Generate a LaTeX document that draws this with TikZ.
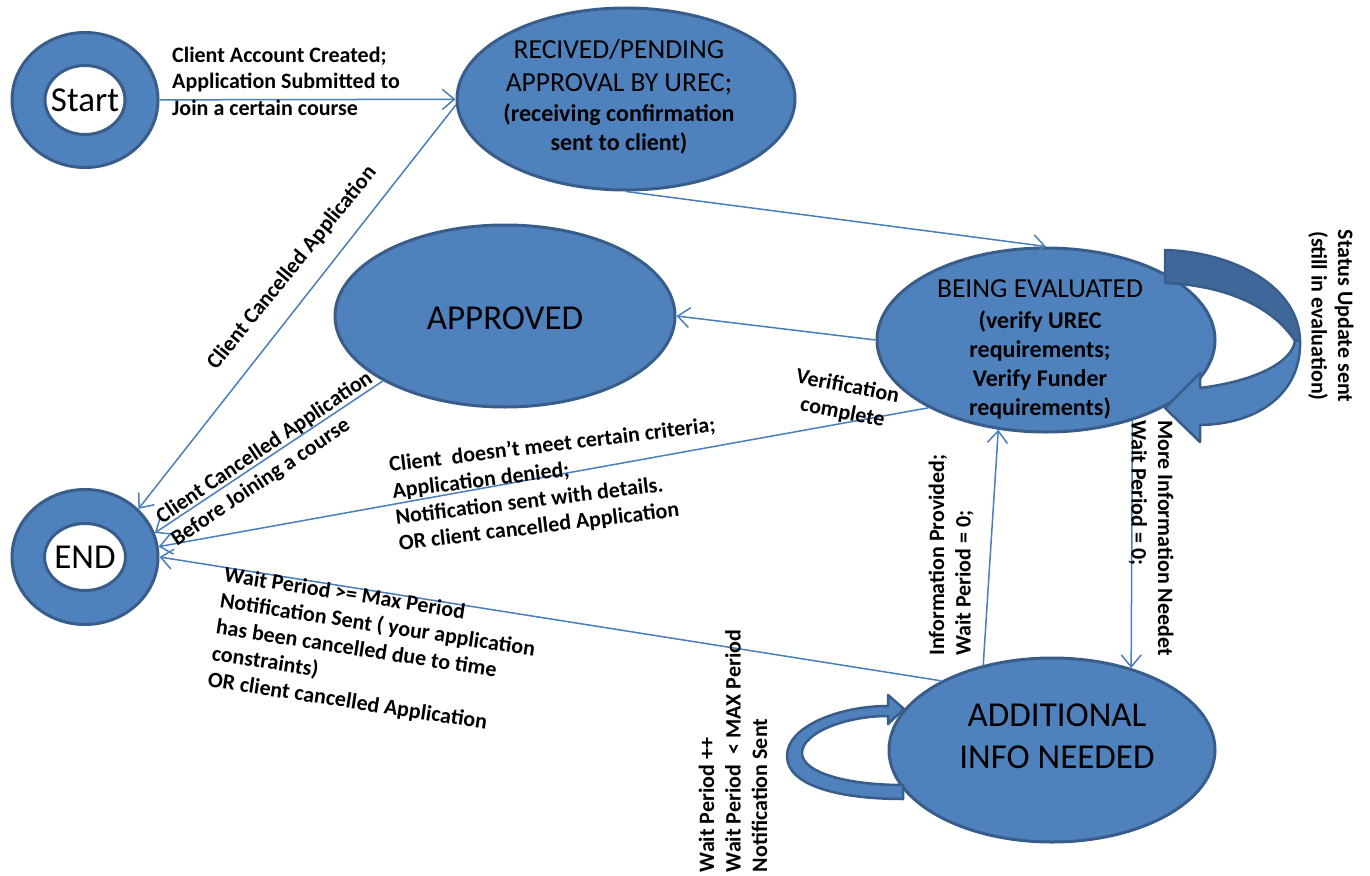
\documentclass[tikz,border=0pt]{standalone}
\usepackage{fontspec}
\setmainfont{Carlito}
\usetikzlibrary{arrows.meta,shapes.geometric}
\definecolor{fillblue}{HTML}{4F81BD}
\definecolor{edgeblue}{HTML}{385D8A}
\definecolor{lineblue}{HTML}{4A7EBB}
\definecolor{backblue}{HTML}{40679A}
\newcommand\mystatereg{\mdseries\fontsize{27.5}{34}\selectfont}
\newcommand\mystatebold{\bfseries\fontsize{24}{30}\selectfont}
\begin{document}
\begin{tikzpicture}[x=1pt,y=-1pt,
  state/.style={ellipse, fill=fillblue, draw=edgeblue, line width=3pt, inner sep=0pt},
  hole/.style={ellipse, fill=white, draw=edgeblue, line width=3pt, inner sep=0pt},
  bigtext/.style={inner sep=0pt, align=center, font=\fontsize{35}{42}\selectfont},
  mixtext/.style={inner sep=0pt, align=center, font=\bfseries\fontsize{24}{29}\selectfont},
  conn/.style={draw=lineblue, line width=1.5pt, -{Straight Barb[length=12pt,width=20pt,line width=1.5pt]}},
  elabel/.style={font=\bfseries\fontsize{22}{26.5}\selectfont, inner sep=0pt},
  blockarrow/.style={fill=fillblue, draw=edgeblue, line width=2.5pt, line join=round}
]
\useasboundingbox (0,0) rectangle (1370,875);

% states
\node[state, minimum width=146pt, minimum height=135pt] (start) at (85,100) {};
\node[hole, minimum width=80pt, minimum height=69pt] (starthole) at (85,100) {};
\node[bigtext] (starttext) at (85,100) {Start};

\node[state, minimum width=146pt, minimum height=135pt] (end) at (85,557) {};
\node[hole, minimum width=81pt, minimum height=67pt] (endhole) at (85,557) {};
\node[bigtext] (endtext) at (85,557) {END};

\node[state, minimum width=338pt, minimum height=182pt] (rec) at (626,99) {};
\node[mixtext] (rectext) at (619,97) {{\mystatereg RECIVED/PENDING}\\[4pt]{\mystatereg APPROVAL BY UREC;}\\[1pt]{\mystatebold (receiving confirmation}\\{\mystatebold sent to client)}};

\node[state, minimum width=340pt, minimum height=182pt] (appr) at (505,316) {};
\node[bigtext] (apprtext) at (505,318) {APPROVED};

\node[state, minimum width=338pt, minimum height=184pt] (eval) at (1046,340) {};
\node[mixtext] (evaltext) at (1040,349) {{\mystatereg BEING EVALUATED}\\[2pt](verify UREC\\requirements;\\Verify Funder\\requirements)};

\node[state, minimum width=326pt, minimum height=184pt] (add) at (1052,750) {};
\node[bigtext] (addtext) at (1057,736) {ADDITIONAL\\INFO NEEDED};

% self loop on BEING EVALUATED
\draw[blockarrow, fill=backblue] (1165,250) .. controls (1232,252) and (1298,285) .. (1300,340)
  -- (1295,341) .. controls (1272,305) and (1222,285) .. (1165,283) -- cycle;
\draw[blockarrow] (1300,340) .. controls (1302,392) and (1260,424) .. (1200,425)
  -- (1200,442) -- (1165,408) -- (1200,373) -- (1200,388)
  .. controls (1256,381) and (1292,362) .. (1295,341) -- cycle;

% self loop on ADDITIONAL INFO NEEDED
\draw[blockarrow] (903,799) .. controls (840,799) and (787,786) .. (787,756)
  .. controls (787,726) and (840,706) .. (888,706) -- (888,695) -- (904,709) -- (888,724) -- (888,716)
  .. controls (845,716) and (802,733) .. (802,753)
  .. controls (802,772) and (845,785) .. (903,785) -- cycle;

% connectors
\draw[conn] (start) -- (rec);
\draw[conn] (rec.182) -- (end.42);
\draw[conn] (rec.south) -- (eval.north);
\draw[conn] (eval.west) -- (appr.east);
\draw[conn] (appr.208) -- (end.19);
\draw[conn] (eval.210) -- (end.8);
\draw[conn] (add.148) -- (end.east);
\draw[conn] (add.129) -- (eval.242);
\draw[conn] (eval.-43.6) -- (add.46);

% labels
\node[elabel, align=left, anchor=west] (l1) at (172,81) {Client Account Created;\\Application Submitted to\\Join a certain course};
\node[elabel, rotate=51] (l2) at (292,268) {Client Cancelled Application};
\node[elabel, rotate=34, align=left] (l3) at (272,459) {Client Cancelled Application\\Before Joining a course};
\node[elabel, rotate=-11, align=center] (l4) at (845,400) {Verification\\complete};
\node[elabel, rotate=7, align=left, anchor=west] (l5) at (394,505) {Client\ \ doesn’t meet certain criteria;\\Application denied;\\Notification sent with details.\\OR client cancelled Application};
\node[elabel, rotate=-8.8, align=left, anchor=west] (l6) at (216,628) {Wait Period >= Max Period\\Notification Sent ( your application\\has been cancelled due to time\\constraints)\\OR client cancelled Application};
\node[elabel, rotate=90, align=left] (l7) at (951,555) {Information Provided;\\Wait Period = 0;};
\node[elabel, rotate=-90, align=left] (l8) at (1151,538) {More Information Needet\\Wait Period = 0;};
\node[elabel, rotate=-90, align=center] (l9) at (1331,316) {Status Update sent\\(still in evaluation)};
\node[elabel, rotate=90, align=left] (l10) at (733,751) {Wait Period ++\\Wait Period\ \ < MAX Period\\Notification Sent};
\end{tikzpicture}
\end{document}
